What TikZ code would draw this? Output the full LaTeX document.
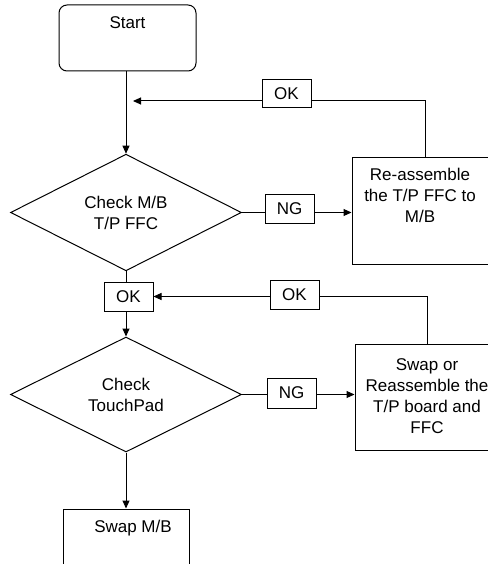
\documentclass[tikz,border=0pt]{standalone}
\usepackage{fontspec}
\setmainfont{Liberation Sans}
\usetikzlibrary{shapes.geometric,arrows.meta}
\begin{document}
\begin{tikzpicture}[x=1pt,y=-1pt,
  every node/.style={font=\fontsize{17}{21}\selectfont, text=black},
  line/.style={draw=black, line width=1pt},
  arr/.style={line, -{Triangle[length=8pt,width=7pt]}},
  procbox/.style={draw=black, line width=1pt, inner sep=0pt},
  boxtext/.style={anchor=north, align=center, inner sep=0pt},
  tag/.style={draw=black, line width=1pt, fill=white, minimum width=49pt, minimum height=29pt, inner sep=0pt},
  decision/.style={diamond, draw=black, line width=1pt, minimum width=231pt, minimum height=115pt, inner sep=0pt, align=center}]
\useasboundingbox (0,0) rectangle (487,564);
\fill[white] (0,0) rectangle (487,564);

% boxes
\node[procbox, rounded corners=8pt, minimum width=137pt, minimum height=66pt] (start) at (127.5,38) {};
\node[boxtext] (starttxt) at ([yshift=-12pt]start.north) {Start};

\node[decision] (d1) at (126,212.5) {Check M/B\\T/P FFC};

\node[procbox, minimum width=136pt, minimum height=106pt] (reasm) at (420,211) {};
\node[boxtext] (reasmtxt) at ([yshift=-10.5pt]reasm.north) {Re-assemble\\the T/P FFC to\\M/B};

\node[tag] (ok2) at (128.5,296.5) {OK};

\node[decision] (d2) at (126,394.5) {Check\\TouchPad};

\node[procbox, minimum width=144pt, minimum height=106pt] (swap) at (427,397) {};
\node[boxtext] (swaptxt) at ([yshift=-15pt]swap.north) {Swap or\\Reassemble the\\T/P board and\\FFC};

\node[procbox, minimum width=126pt, minimum height=80pt] (swapmb) at (126,549) {};
\node[boxtext] (swapmbtxt) at ([yshift=-11pt,xshift=7pt]swapmb.north) {Swap M/B};

% connectors
\coordinate (j1) at (133,101);
\draw[arr] (start.south -| d1.north) -- (d1.north);
\draw[arr] ([xshift=5pt]reasm.north) |- (j1);
\draw[arr] (d1.east) -- (d1.east -| reasm.west);
\draw[line] (d1.south) -- (ok2.north -| d1.south);
\draw[arr] (ok2.south -| d2.north) -- (d2.north);
\draw[arr] (swap.north) |- (ok2.east);
\draw[arr] (d2.east) -- (d2.east -| swap.west);
\draw[arr] (d2.south) -- (swapmb.north -| d2.south);

% connector labels
\node[tag, minimum height=28pt] (ok1) at (286.5,94) {OK};
\node[tag] (ng1) at (289.5,209) {NG};
\node[tag] (ok3) at (294.5,294.5) {OK};
\node[tag, minimum height=30pt] (ng2) at (291.5,393) {NG};
\end{tikzpicture}
\end{document}
